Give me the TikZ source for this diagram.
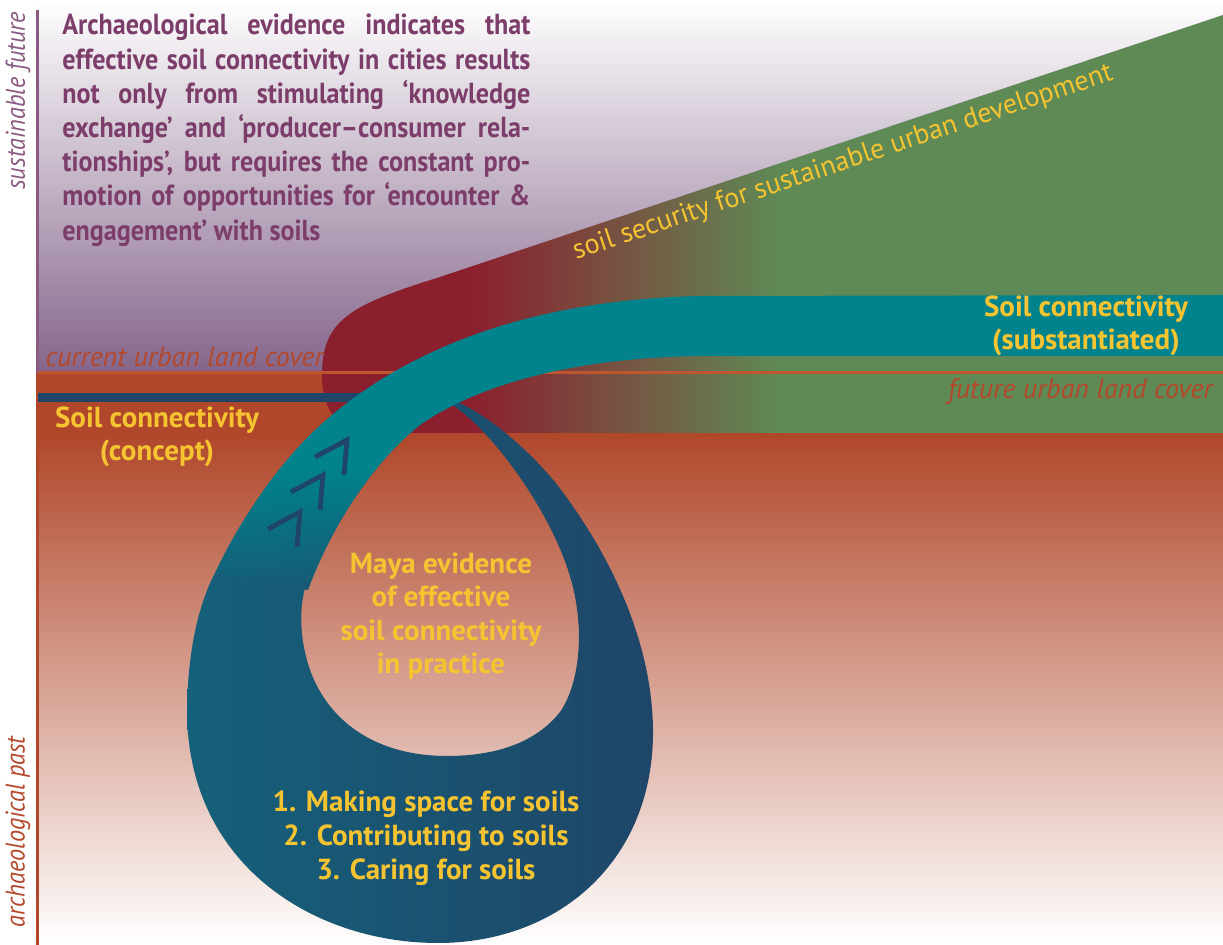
\documentclass[tikz,border=0pt]{standalone}
\usepackage{fontspec}
\setmainfont{PT Sans}
\newfontfamily\narrowfont{PT Sans}[FakeStretch=0.9]
\usepackage{tikz}
\usetikzlibrary{fadings}
\definecolor{bgpurple}{HTML}{84658A}
\definecolor{rust}{HTML}{B0472A}
\definecolor{rustmid}{HTML}{C27A62}
\definecolor{rustline}{HTML}{C0562F}
\definecolor{rusttext}{HTML}{B4482B}
\definecolor{wred}{HTML}{8C1F2E}
\definecolor{wgreen}{HTML}{5F8A56}
\definecolor{tealband}{HTML}{00838C}
\definecolor{navy}{HTML}{1F4668}
\definecolor{ringteal}{HTML}{15607A}
\definecolor{textyellow}{HTML}{F6C431}
\definecolor{textpurple}{HTML}{7C3D6A}
\definecolor{sidepurple}{HTML}{8A5A82}

\begin{document}
\begin{tikzpicture}[x=0.5pt, y=-0.5pt,
  yellowtext/.style={text=textyellow, font=\fontsize{14.5}{16.8}\selectfont\bfseries, align=center, inner sep=0pt},
  covertext/.style={text=rusttext, font=\fontsize{14}{16}\selectfont\itshape, inner sep=0pt},
  sidetext/.style={font=\narrowfont\fontsize{13.5}{16}\selectfont\itshape, rotate=90, inner sep=0pt},
  ringshade/.style={left color=ringteal, right color=navy},
  chevron/.style={draw=navy, line width=2.4pt}]
  \useasboundingbox (0,0) rectangle (1223,945);
  \fill[white] (0,0) rectangle (1223,945);

  \shade[top color=white, bottom color=bgpurple] (38,0) rectangle (1223,373);
  \fill[rust] (38,373) rectangle (1223,434);
  \shade[top color=rust, middle color=rustmid, bottom color=white] (38,433) rectangle (1223,945);
  \draw[sidepurple, line width=1.5pt] (37,10) -- (37,373);
  \draw[rust, line width=1.5pt] (37,373) -- (37,945);

  \node[covertext, anchor=west] (curcover) at (45,357) {current urban land cover};

  \begin{scope}
    \clip (1223,15) -- (440,277) .. controls (350,305) and (322,320) .. (322,375)
      .. controls (322,412) and (340,433) .. (372,433) -- (1223,433) -- cycle;
    \fill[wred] (300,0) rectangle (470,440);
    \shade[left color=wred, right color=wgreen] (469,0) rectangle (781,440);
    \fill[wgreen] (780,0) rectangle (1223,440);
  \end{scope}
  \draw[rustline, line width=1.5pt] (38,373) -- (1223,373);

  \fill[navy] (38,393) rectangle (372,402);
  \path[even odd rule, ringshade]
    (380,393) -- (425,393) .. controls (465,395) and (520,440) .. (555,482)
    .. controls (600,540) and (652,630) .. (653,730)
    .. controls (654,860) and (560,942) .. (440,943)
    .. controls (320,944) and (190,870) .. (187,715)
    .. controls (187,655) and (198,605) .. (215,573) -- (340,440) -- (370,402) -- cycle
    (440,398) .. controls (480,415) and (545,500) .. (568,570)
    .. controls (585,620) and (582,680) .. (560,712)
    .. controls (530,750) and (480,756) .. (447,756)
    .. controls (380,756) and (330,725) .. (310,670)
    .. controls (298,635) and (300,603) .. (306,585) -- (330,470) -- cycle;

  \begin{scope}
    \clip (215,573) .. controls (240,520) and (278,465) .. (315,430)
      .. controls (395,355) and (520,300) .. (700,296) -- (1223,295) -- (1223,356) -- (700,356)
      .. controls (560,358) and (470,390) .. (420,425)
      .. controls (370,465) and (330,530) .. (308,590) -- cycle;
    \fill[tealband] (180,280) rectangle (1223,471);
    \shade[ringshade] (187,470) rectangle (654,620);
    \fill[tealband, path fading=south] (180,469) rectangle (420,588);
  \end{scope}

  \foreach \ax/\ay in {347/440, 323/475, 300/512}
    \draw[chevron] ({\ax-32},{\ay+17}) -- (\ax,\ay) -- ({\ax-3},{\ay+35});

  \node[anchor=base west, text width=234pt, align=justify, inner sep=0pt, text=textpurple,
    font=\narrowfont\fontsize{14.5}{17.1}\selectfont\bfseries] (intro) at (62,35)
    {Archaeological evidence indicates that\linebreak
     effective soil connectivity in cities results\linebreak
     not only from stimulating ‘knowledge\linebreak
     exchange’ and ‘producer–consumer rela-\linebreak
     tionships’, but requires the constant pro-\linebreak
     motion of opportunities for ‘encounter \&\linebreak
     engagement’ with soils};

  \node[yellowtext] (concept) at (157,437) {Soil connectivity\\(concept)};
  \node[yellowtext] (substantiated) at (1086,326) {Soil connectivity\\(substantiated)};
  \node[yellowtext, font=\fontsize{14}{16}\selectfont, rotate=18.5] (security) at (843,163)
    {soil security for sustainable urban development};
  \node[yellowtext, font=\fontsize{14.5}{16.7}\selectfont\bfseries] (maya) at (441,616)
    {Maya evidence\\of effective\\soil connectivity\\in practice};
  \node[yellowtext, font=\fontsize{14.5}{17}\selectfont\bfseries] (steps) at (426,838)
    {1. Making space for soils\\2. Contributing to soils\\3. Caring for soils};
  \node[covertext, anchor=east] (futcover) at (1213,391) {future urban land cover};
  \node[sidetext, text=sidepurple] (future) at (18,101) {sustainable future};
  \node[sidetext, text=rusttext] (past) at (18,832) {archaeological past};
\end{tikzpicture}
\end{document}
